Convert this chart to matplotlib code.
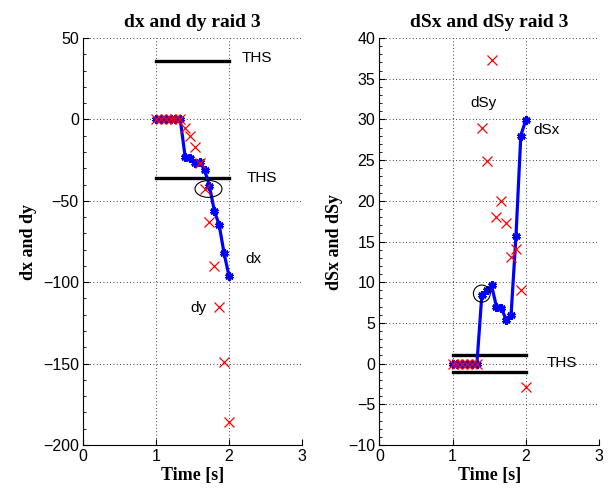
import numpy as np
import matplotlib
matplotlib.use("Agg")
import matplotlib.pyplot as plt
from matplotlib.patches import Ellipse
from matplotlib.ticker import AutoMinorLocator

# sample times (s)
t = [1.0, 1.067, 1.133, 1.2, 1.267, 1.333, 1.4, 1.467, 1.533, 1.6,
     1.667, 1.733, 1.8, 1.867, 1.933, 2.0]

# left panel
dx = [0, 0, 0, 0, 0, 0, -23, -24, -27, -26, -31, -41, -56, -65, -82, -96]
dy = [0, 0, 0, 0, 0, 0, -5, -10, -17, -27, -43, -63, -90, -115, -149, -186]
ths_xy = 36

# right panel
dsx = [0, 0, 0, 0, 0, 0, 8.4, 9.0, 9.6, 7.0, 6.8, 5.4, 6.0, 15.7, 28.0, 29.9]
dsy = [0, 0, 0, 0, 0, 0, 28.9, 24.9, 37.3, 18.0, 20.0, 17.3, 13.1, 14.1, 9.1, -2.9]
ths_s = 1

serif = "Liberation Serif"
sans = "Liberation Sans"
asterisk = (6, 2, 0)

fig = plt.figure(figsize=(6.08, 4.96), dpi=100)
ax1 = fig.add_axes([0.1365, 0.1028, 0.360, 0.8206])
ax2 = fig.add_axes([0.624, 0.1028, 0.361, 0.8206])


def style(ax, ylim, yticks):
    ax.set_xlim(0, 3)
    ax.set_ylim(*ylim)
    ax.set_xticks([0, 1, 2, 3])
    ax.set_yticks(yticks)
    ax.yaxis.set_minor_locator(AutoMinorLocator(5))
    ax.tick_params(direction="in", length=4, width=0.8, labelsize=11.5, pad=3)
    ax.tick_params(which="minor", direction="in", length=2, width=0.6)
    for lab in ax.get_xticklabels() + ax.get_yticklabels():
        lab.set_family(sans)
    ax.spines["top"].set_visible(False)
    ax.spines["right"].set_visible(False)
    ax.grid(True, which="major", color="black", linestyle=(0, (1, 3)), linewidth=0.6)
    ax.set_xlabel("Time [s]", family=serif, fontweight="bold", fontsize=13, labelpad=2)


# left: dx and dy
ax1.plot([1, 2], [ths_xy, ths_xy], color="black", lw=2.4)
ax1.plot([1, 2], [-ths_xy, -ths_xy], color="black", lw=2.4)
ax1.plot(t, dx, color="blue", lw=2.3, marker=asterisk, ms=6, mew=2, zorder=3)
ax1.plot(t, dy, "x", color="red", ms=7, mew=0.9, zorder=4)
ax1.add_patch(Ellipse((1.72, -42.7), 0.37, 10.4, fill=False, ec="black", lw=0.8, zorder=5))
ax1.text(2.18, 38, "THS", family=sans, fontsize=11, va="center")
ax1.text(2.24, -36, "THS", family=sans, fontsize=11, va="center")
ax1.text(2.23, -86, "dx", family=sans, fontsize=11, va="center")
ax1.text(1.47, -116, "dy", family=sans, fontsize=11, va="center")
style(ax1, (-200, 50), [-200, -150, -100, -50, 0, 50])
ax1.set_ylabel("dx and dy", family=serif, fontweight="bold", fontsize=13, labelpad=4)
ax1.set_title("dx and dy raid 3", family=serif, fontweight="bold", fontsize=14, pad=8)

# right: dSx and dSy
ax2.plot([1, 2], [ths_s, ths_s], color="black", lw=2.4)
ax2.plot([1, 2], [-ths_s, -ths_s], color="black", lw=2.4)
ax2.plot(t, dsx, color="blue", lw=2.3, marker=asterisk, ms=6, mew=2, zorder=3)
ax2.plot(t, dsy, "x", color="red", ms=7, mew=0.9, zorder=4)
ax2.add_patch(Ellipse((1.40, 8.6), 0.23, 2.1, fill=False, ec="black", lw=0.8, zorder=5))
ax2.text(2.28, 0.1, "THS", family=sans, fontsize=11, va="center")
ax2.text(2.10, 28.7, "dSx", family=sans, fontsize=11, va="center")
ax2.text(1.25, 32, "dSy", family=sans, fontsize=11, va="center")
style(ax2, (-10, 40), list(range(-10, 41, 5)))
ax2.set_ylabel("dSx and dSy", family=serif, fontweight="bold", fontsize=13, labelpad=4)
ax2.set_title("dSx and dSy raid 3", family=serif, fontweight="bold", fontsize=14, pad=8)

fig.savefig("out.png", dpi=100)
